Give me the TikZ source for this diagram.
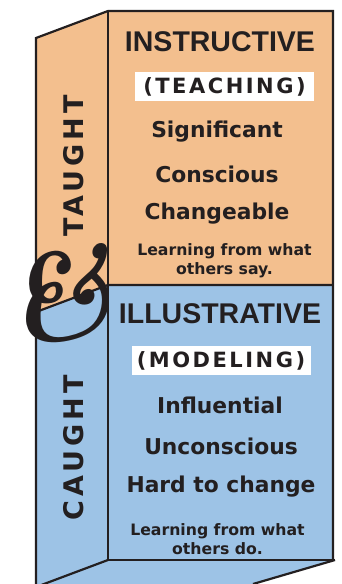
\documentclass[tikz,border=0pt]{standalone}
\usepackage{fontspec}
\newfontfamily\verd{DejaVu Sans}
\newfontfamily\verdsp{DejaVu Sans}[LetterSpace=12]
\newfontfamily\verdwide{DejaVu Sans}[LetterSpace=15]
\newfontfamily\arialf{Liberation Sans}
\definecolor{peach}{RGB}{243,191,142}
\definecolor{sky}{RGB}{157,195,230}
\definecolor{ink}{RGB}{35,31,32}
\tikzset{
  face/.style={draw=ink, line width=2.2pt, line join=miter},
  title/.style={font=\arialf\bfseries\fontsize{28.5}{30}\selectfont, text=ink, inner sep=0pt},
  sub/.style={font=\verdsp\bfseries\fontsize{21}{22}\selectfont, text=ink, fill=white, minimum width=179pt, minimum height=29pt, inner sep=0pt},
  item/.style={font=\verd\bfseries\fontsize{21.8}{22}\selectfont, text=ink, inner sep=0pt},
  note/.style={font=\verd\bfseries\fontsize{15.7}{19}\selectfont, text=ink, inner sep=0pt, align=center},
  side/.style={font=\verdwide\bfseries\fontsize{27}{27}\selectfont, text=ink, inner sep=0pt, rotate=90}
}
\begin{document}
\begin{tikzpicture}[x=1pt,y=-1pt]
\useasboundingbox (0,0) rectangle (342,584);
\begin{scope}
\clip (0,0) rectangle (342,584);
% faces
\fill[peach] (36,38) -- (108,11) -- (333,11) -- (333,285) -- (108,285) -- (36,312) -- cycle;
\fill[sky] (36,312) -- (108,285) -- (333,285) -- (333,560) -- (335,560) -- (253,584) -- (36,584) -- cycle;
% edges
\draw[face] (36,584) -- (36,38) -- (108,11) -- (333,11) -- (333,560);
\draw[face] (108,11) -- (108,560) -- (333,560);
\draw[face] (36,312) -- (108,285) -- (333,285);
\draw[face] (108,560) -- (36,587);
\draw[face] (335,560) -- (253,584);
\end{scope}
% texts
\node[title] (t1) at (220,42) {INSTRUCTIVE};
\node[sub] (s1) at (224.5,86.5) {(TEACHING)};
\node[item] (a1) at (217,132) {Significant};
\node[item] (a2) at (217,174) {Conscious};
\node[item] (a3) at (217,214) {Changeable};
\node[note] (n1) at (224.5,261) {Learning from what\\others say.};
\node[title] (t2) at (220,314) {ILLUSTRATIVE};
\node[sub] (s2) at (221,360.5) {(MODELING)};
\node[item] (b1) at (220,405) {Influential};
\node[item] (b2) at (221,446) {Unconscious};
\node[item] (b3) at (221,487) {Hard to change};
\node[note] (n2) at (217.5,539) {Learning from what\\others do.};
\node[side] (v1) at (74,166) {TAUGHT};
\node[side] (v2) at (74,448) {CAUGHT};
\node[inner sep=0pt, text=ink, font=\fontsize{125}{125}\selectfont\bfseries\itshape, rotate=12] (amp) at (60,297) {\&};
\end{tikzpicture}
\end{document}
